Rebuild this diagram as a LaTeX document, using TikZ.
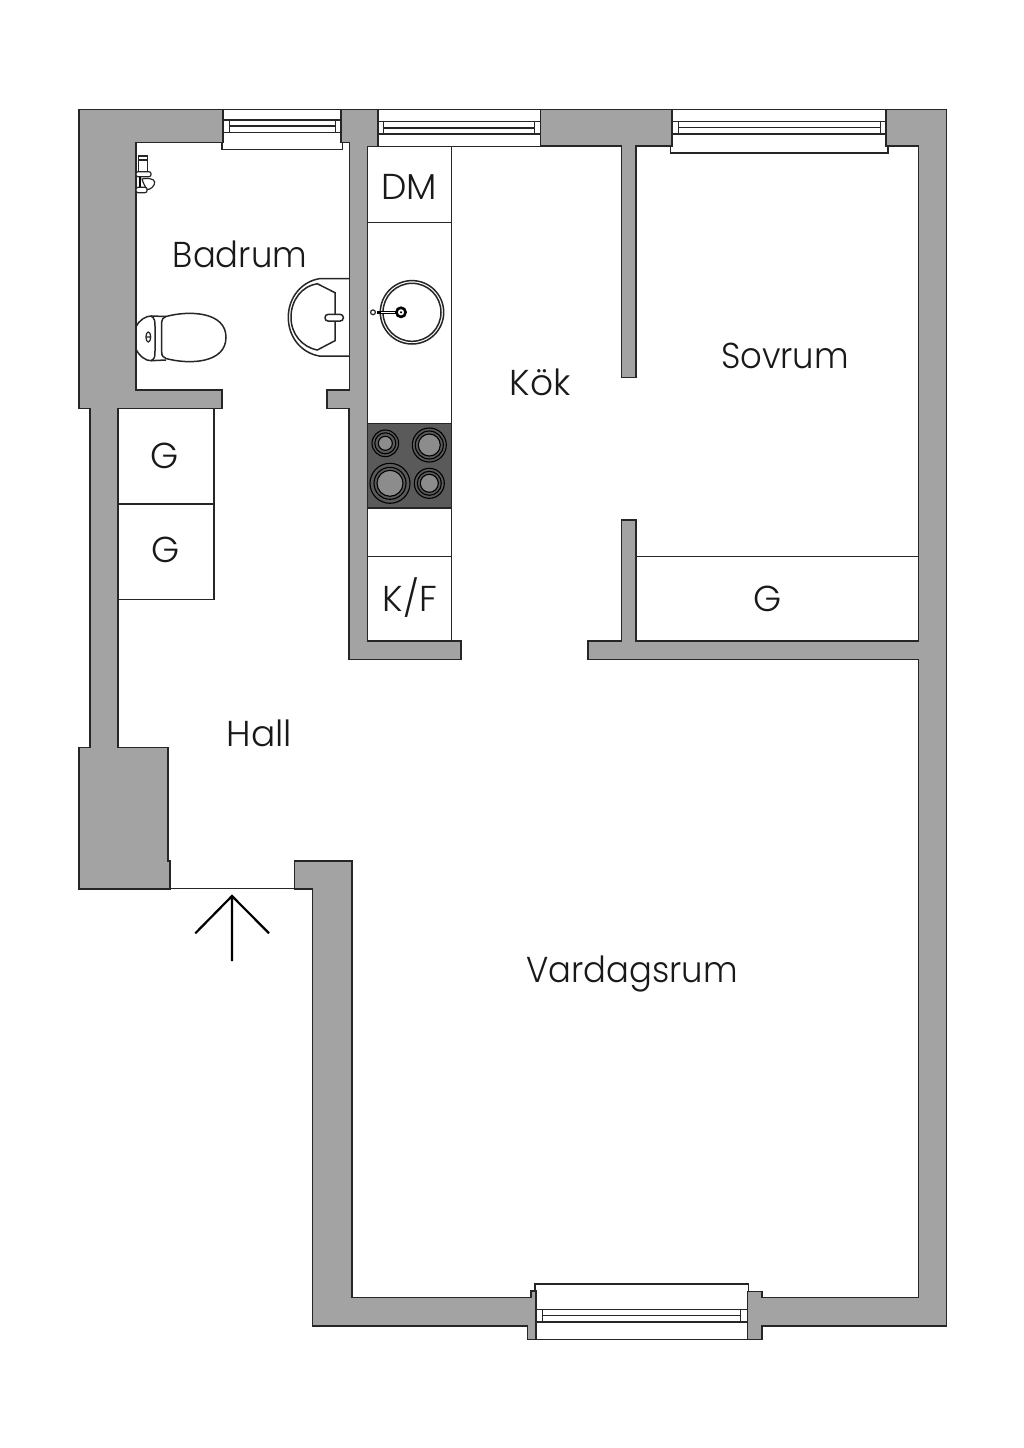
\documentclass[tikz,border=0pt]{standalone}
\usepackage{fontspec}
\setmainfont{Poppins}[UprightFont=* Light]
\usepackage{xcolor}
\usepackage{tikz}
\definecolor{wallgray}{HTML}{A3A3A3}
\definecolor{hobgray}{HTML}{5A5A5A}
\definecolor{plategray}{HTML}{8C8C8C}
\tikzset{
	wall/.style={draw=black!85, fill=wallgray, line width=1.6pt, line join=miter},
	fixture/.style={draw=black!85, line width=1.5pt, fill=white},
	thin line/.style={draw=black!85, line width=1.5pt},
	plate/.style={draw=black, line width=1.1pt},
	room/.style={font=\fontsize{36}{40}\selectfont, text=black!90, inner sep=0pt, anchor=base},
	narrow room/.style={room, xscale=0.94}
}
\begin{document}
\begin{tikzpicture}[x=1pt, y=-1pt]
	\useasboundingbox (0,0) rectangle (1024,1448);
	
	% walls
	\draw[wall] (223,109.5) -- (79,109.5) -- (79,408.3) -- (90,408.3) -- (90,747.3) -- (79,747.3) -- (79,888.7) -- (169.7,888.7) -- (169.7,860.7) -- (167.7,860.7) -- (167.7,747.3) -- (117.7,747.3) -- (117.7,408.3) -- (221.7,408.3) -- (221.7,390) -- (135.7,390) -- (135.7,142.3) -- (223,142.3) -- cycle;
	\draw[wall] (341,109.5) -- (377.7,109.5) -- (377.7,146.3) -- (367.3,146.3) -- (367.3,640.7) -- (460.7,640.7) -- (460.7,659.3) -- (348.8,659.3) -- (348.8,408.3) -- (326.7,408.3) -- (326.7,390) -- (349.3,390) -- (349.3,142.3) -- (341,142.3) -- cycle;
	\draw[wall] (540.3,109.5) -- (672,109.5) -- (672,146) -- (635.7,146) -- (635.7,377.3) -- (621.3,377.3) -- (621.3,146) -- (540.3,146) -- cycle;
	\draw[wall] (886,109.5) -- (946.5,109.5) -- (946.5,1325.7) -- (762,1325.7) -- (762,1339.3) -- (747.3,1339.3) -- (747.3,1291.3) -- (762,1291.3) -- (762,1297.3) -- (918.5,1297.3) -- (918.5,659.3) -- (588,659.3) -- (588,640.7) -- (621.3,640.7) -- (621.3,520) -- (635.7,520) -- (635.7,640.7) -- (918.5,640.7) -- (918.5,146) -- (886,146) -- cycle;
	\draw[wall] (312.3,888.7) -- (294.3,888.7) -- (294.3,861) -- (351.7,861) -- (351.7,1297.3) -- (530.7,1297.3) -- (530.7,1290.7) -- (536,1290.7) -- (536,1339.3) -- (527.3,1339.3) -- (527.3,1325.7) -- (312.3,1325.7) -- cycle;
	\draw[thin line] (169.7,888.7) -- (294.3,888.7);
	
	% windows
	\draw[thin line] (223,109.5) -- (341,109.5);
	\draw[thin line] (222,142.3) -- (222,149.5) -- (342.7,149.5) -- (342.7,142.3);
	\draw[thin line] (223,120) rectangle (341,132.3);
	\draw[thin line] (229.3,120) rectangle (335.3,132.3) (229.3,126) -- (335.3,126);
	
	\draw[thin line] (377.7,109.5) -- (540.3,109.5) (377.7,146.3) -- (540.3,146.3);
	\draw[thin line] (377.7,121.7) rectangle (540.3,134);
	\draw[thin line] (383.7,121.7) rectangle (534.3,134) (383.7,128) -- (534.3,128);
	
	\draw[thin line] (672,109.5) -- (886,109.5);
	\draw[thin line] (670.3,146) -- (670.3,153) -- (888,153) -- (888,146);
	\draw[thin line] (672,121.7) rectangle (886,134);
	\draw[thin line] (678.3,121.7) rectangle (880.3,134) (678.3,127.7) -- (880.3,127.7);
	
	\draw[thin line] (535,1290.7) -- (535,1284) -- (748.7,1284) -- (748.7,1291.3);
	\draw[thin line] (536,1339.3) -- (747.3,1339.3);
	\draw[thin line] (536,1309.3) rectangle (747.3,1322);
	\draw[thin line] (542.3,1309.3) rectangle (740.7,1322) (542.3,1315.7) -- (740.7,1315.7);
	
	% closets
	\draw[thin line] (214,408.3) -- (214,599.5) -- (117.7,599.5) (117.7,504) -- (214,504);
	\draw[thin line] (635.7,556.7) -- (918.5,556.7);
	
	% kitchen
	\draw[thin line] (451.7,146.3) -- (451.7,640.7);
	\draw[thin line] (367.3,222.7) -- (451.7,222.7) (367.3,556.7) -- (451.7,556.7);
	\draw[fixture, fill=hobgray] (367.3,423.7) rectangle (451.7,508);
	\foreach \cx/\cy/\ra/\rb/\rc in {385.3/443.3/13.3/10.5/7, 429.3/445/17/14/11, 390/483.3/20/16/13, 429.3/483.3/15/12/9} {
		\draw[plate] (\cx,\cy) circle(\ra);
		\draw[plate] (\cx,\cy) circle(\rb);
		\draw[plate, fill=plategray] (\cx,\cy) circle(\rc);
	}
	\draw[fixture, fill=none] (412,312.3) circle(31.7);
	\draw[fixture, fill=none] (412,312.3) circle(29);
	\draw[black, line width=3pt] (377,312.3) -- (396,312.3);
	\draw[white, line width=1pt] (381,312.3) -- (396,312.3);
	\draw[fixture, line width=1.2pt] (373,312.3) circle(2.4);
	\draw[black, line width=2.6pt, fill=white] (401,312.3) circle(4.6);
	\fill[black] (401,312.3) circle(1.2);
	
	% bathroom
	\draw[thin line] (349,278.7) -- (319.3,278.7) .. controls (302,281.5) and (288.3,297) .. (288.3,317.3) .. controls (288.3,338) and (302,353) .. (319.3,356) -- (349,356);
	\draw[thin line] (335,292.7) -- (317.3,283.7) .. controls (302,286) and (291,300) .. (291,317.3) .. controls (291,334) and (302,347) .. (317.3,350) -- (335,340.7) -- cycle;
	\draw[fixture, rounded corners=3pt] (325,314.4) rectangle (343.3,321);
	
	\draw[thin line] (136,327) .. controls (139,320) and (146,316) .. (151,316) .. controls (155,318) and (155,322) .. (155,326) -- (155,351) .. controls (155,356) and (155,359) .. (151,360.7) .. controls (146,361) and (139,356) .. (136,349);
	\draw[thin line] (161.7,322) .. controls (161.7,319) and (163,318) .. (166,316.5) .. controls (190,310) and (226,312) .. (226,337.3) .. controls (226,363) and (190,365) .. (166,358.5) .. controls (163,357) and (161.7,356) .. (161.7,352) -- cycle;
	\draw[thin line] (151,316) -- (166,316.5) (151,360.7) -- (166,360);
	\draw[thin line, line width=1.2pt] (148.3,337) ellipse (2.4 and 5) (146,337) -- (150.6,337);
	
	\draw[thin line, line width=1.2pt] (138.7,156) rectangle (147.3,171.7) (138.7,160) -- (147.3,160);
	\draw[fixture, line width=1.2pt, rounded corners=2pt] (136,171.7) rectangle (151,176.7);
	\draw[black, line width=2pt] (140,176.7) -- (140,187);
	\draw[fixture, line width=1.2pt] (142,179) .. controls (146,178) and (154,178) .. (154.7,182) .. controls (155,186) and (150,190) .. (147,189.5) .. controls (145,186) and (143,183) .. (142,179) -- cycle;
	\draw[fixture, line width=1.2pt, rounded corners=2pt] (136,187.3) rectangle (147,192.7);
	
	% entrance arrow
	\draw[black, line width=2.2pt] (195.3,933.3) -- (232,896) -- (269,933.3) (232,896) -- (232,961);
	
	% labels
	\node[narrow room] (badrum) at (240,267.7) {Badrum};
	\node[room] (dm) at (409,199) {DM};
	\node[room] (kok) at (540,395) {Kök};
	\node[narrow room] (sovrum) at (785,368.5) {Sovrum};
	\node[room] (garderob1) at (165,468) {G};
	\node[room] (garderob2) at (166,562.5) {G};
	\node[room] (garderob3) at (768,611.5) {G};
	\node[room] (kf) at (410,611.7) {K/F};
	\node[room] (hall) at (259.5,746.7) {Hall};
	\node[narrow room] (vardagsrum) at (632,982.5) {Vardagsrum};
\end{tikzpicture}
\end{document}
